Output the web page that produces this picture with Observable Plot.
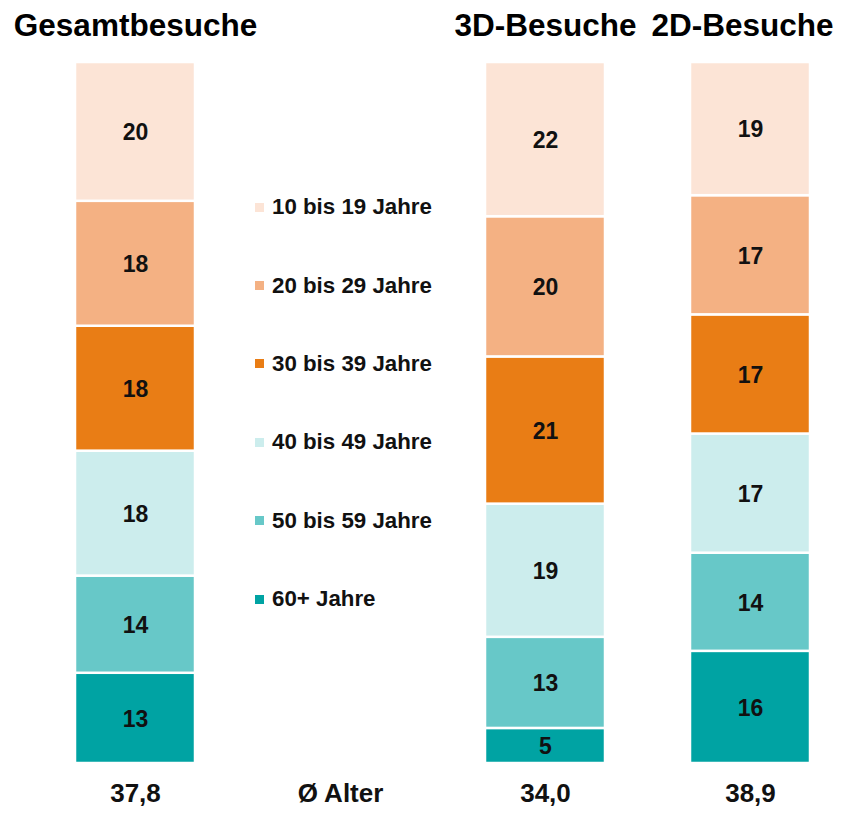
<!DOCTYPE html>
<html>
<head>
<meta charset="utf-8">
<script src="https://cdn.jsdelivr.net/npm/d3@7"></script>
<script src="https://cdn.jsdelivr.net/npm/@observablehq/plot@0.6"></script>
<style>
  body { margin: 0; background: #fff; }
  #wrap { position: relative; width: 847px; height: 815px; font-family: "Liberation Sans", Arial, sans-serif; }
  #legend { position: absolute; left: 255px; top: 168px; }
  .row { height: 78.4px; display: flex; align-items: center; font-weight: bold; font-size: 22.3px; color: #111; }
  .sw { width: 9px; height: 9px; margin-right: 8px; }
</style>
</head>
<body>
<div id="wrap"></div>
<script>
const columns = ["Gesamtbesuche", "Ø Alter", "3D-Besuche", "2D-Besuche"];
const barColumns = ["Gesamtbesuche", "3D-Besuche", "2D-Besuche"];
const ageGroups = ["10 bis 19 Jahre", "20 bis 29 Jahre", "30 bis 39 Jahre", "40 bis 49 Jahre", "50 bis 59 Jahre", "60+ Jahre"];
const colors = ["#FCE4D6", "#F4B183", "#E97D15", "#CCEDED", "#67C8C8", "#00A3A3"];
const gesamtValues = [20, 18, 18, 18, 14, 13];
const besuche3DValues = [22, 20, 21, 19, 13, 5];
const besuche2DValues = [19, 17, 17, 17, 14, 16];
const titles = ["Gesamtbesuche", "", "3D-Besuche", "2D-Besuche"];
const bottomLabels = ["37,8", "Ø Alter", "34,0", "38,9"];

const seriesByColumn = [gesamtValues, besuche3DValues, besuche2DValues];
const data = [];
barColumns.forEach((col, ci) => {
  for (let i = ageGroups.length - 1; i >= 0; i--) {
    data.push({column: col, age: ageGroups[i], value: seriesByColumn[ci][i]});
  }
});
const titleData = columns.map((c, i) => ({column: c, text: titles[i]})).filter(d => d.text);
const bottomData = columns.map((c, i) => ({column: c, text: bottomLabels[i]}));

const font = "Liberation Sans, Arial, sans-serif";
const titleStyle = {x: "column", text: "text", frameAnchor: "top", lineAnchor: "middle", dy: -37, fontSize: 31.5, fontWeight: "bold", fill: "#000"};
const chart = Plot.plot({
  width: 847,
  height: 815,
  marginTop: 62,
  marginBottom: 52,
  marginLeft: 0,
  marginRight: 0,
  style: {fontFamily: font, background: "white"},
  x: {type: "band", domain: columns, range: [32.5, 852.5], paddingInner: 0.415, paddingOuter: 0.2075, axis: null},
  y: {axis: null},
  color: {domain: ageGroups, range: colors},
  marks: [
    Plot.barY(data, Plot.stackY({x: "column", y: "value", fill: "age", offset: "normalize", stroke: "white", strokeWidth: 2.5})),
    Plot.text(data, Plot.stackY({x: "column", y: "value", text: "value", offset: "normalize", fill: "#111", fontSize: 23, fontWeight: "bold", dy: 1})),
    Plot.text(titleData.filter(d => d.column !== "2D-Besuche"), titleStyle),
    Plot.text(titleData.filter(d => d.column === "2D-Besuche"), {...titleStyle, dx: -8}),
    Plot.text(bottomData, {x: "column", text: "text", frameAnchor: "bottom", lineAnchor: "middle", dy: 30, fontSize: 26, fontWeight: "bold", fill: "#111"})
  ]
});
const wrap = document.getElementById("wrap");
wrap.appendChild(chart);

const legend = document.createElement("div");
legend.id = "legend";
ageGroups.forEach((g, i) => {
  const row = document.createElement("div");
  row.className = "row";
  const sw = document.createElement("span");
  sw.className = "sw";
  sw.style.background = colors[i];
  row.appendChild(sw);
  row.appendChild(document.createTextNode(g));
  legend.appendChild(row);
});
wrap.appendChild(legend);
</script>
</body>
</html>
